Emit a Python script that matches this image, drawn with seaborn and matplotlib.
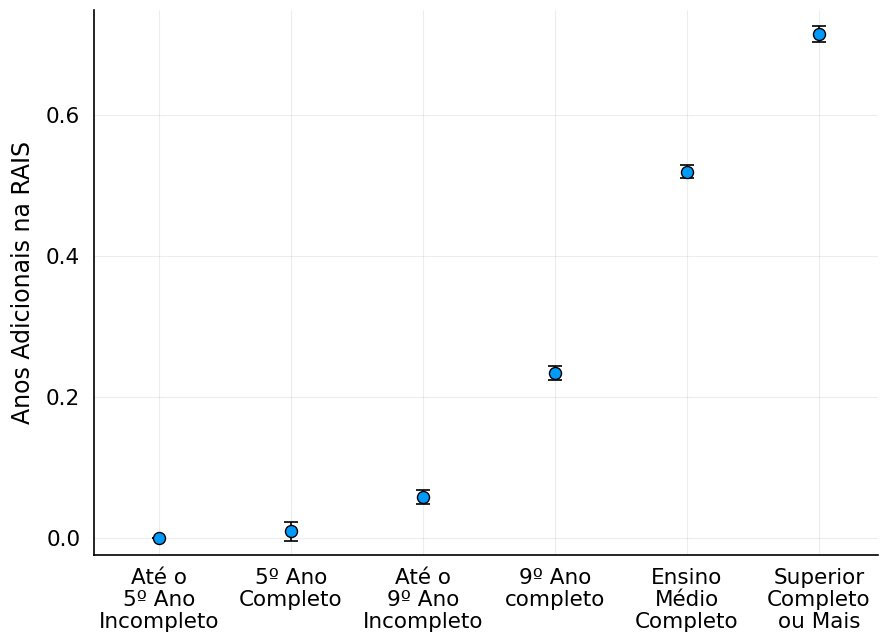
import numpy as np
import pandas as pd
import seaborn as sns
import matplotlib.pyplot as plt

# Escolaridade e anos adicionais na RAIS
categorias = ["Até o\n5º Ano\nIncompleto", "5º Ano\nCompleto", "Até o\n9º Ano\nIncompleto",
              "9º Ano\ncompleto", "Ensino\nMédio\nCompleto", "Superior\nCompleto\nou Mais"]
coeficientes = [0.0, 0.010, 0.058, 0.234, 0.520, 0.715]
erros = [0.0, 0.0135, 0.010, 0.010, 0.0095, 0.0115]

df = pd.DataFrame({"cat": categorias, "coef": coeficientes, "err": erros})

sns.set_style("white")
plt.rcParams['font.family'] = ['DejaVu Sans']
plt.rcParams['text.color'] = 'black'
plt.rcParams['xtick.color'] = 'black'
plt.rcParams['ytick.color'] = 'black'
plt.rcParams['axes.labelcolor'] = 'black'

fig = plt.figure(figsize=(8.8, 6.36), dpi=100)
ax = fig.add_axes([0.107, 0.127, 0.891, 0.857])

xpos = np.arange(len(df))
ax.errorbar(xpos, df["coef"], yerr=df["err"], fmt="none", ecolor="black",
            elinewidth=1.2, capsize=5, capthick=1.2, zorder=2)
sns.scatterplot(x=xpos, y=df["coef"], ax=ax, s=75, color="#009AFA",
                edgecolor="black", linewidth=1.0, zorder=3, legend=False)

ax.set_xticks(xpos)
ax.set_xticklabels(df["cat"], fontsize=15.5, linespacing=1.12)
ax.set_yticks([0.0, 0.2, 0.4, 0.6])
ax.set_yticklabels(["0.0", "0.2", "0.4", "0.6"], fontsize=15.5)
ax.set_xlim(-0.49, 5.45)
ax.set_ylim(-0.024, 0.749)
ax.set_ylabel("Anos Adicionais na RAIS", fontsize=17, labelpad=8)
ax.set_xlabel("")

ax.grid(True, color="black", alpha=0.07, linewidth=0.8)
ax.set_axisbelow(True)
for s in ["top", "right"]:
    ax.spines[s].set_visible(False)
for s in ["left", "bottom"]:
    ax.spines[s].set_color("black")
    ax.spines[s].set_linewidth(1.2)
ax.tick_params(direction="in", length=5, width=1.0, color="black")
ax.tick_params(axis="x", pad=9)
ax.tick_params(axis="y", pad=10)

plt.savefig("out.png", dpi=100)
plt.close()
